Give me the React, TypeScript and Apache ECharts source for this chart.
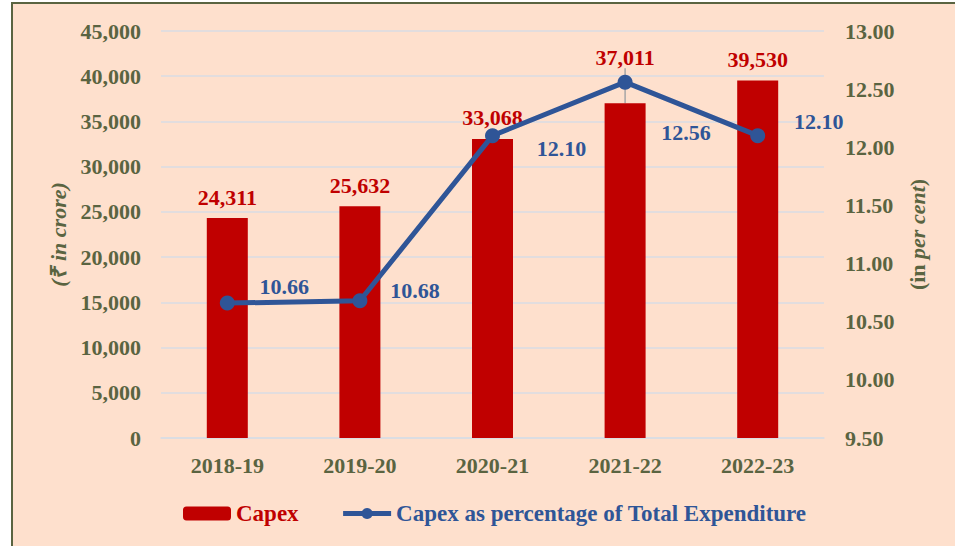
import React, { useEffect, useRef } from "react";
import * as echarts from "echarts";

const categories = ["2018-19", "2019-20", "2020-21", "2021-22", "2022-23"];
const capex = [24311, 25632, 33068, 37011, 39530];
const capexPct = [10.66, 10.68, 12.1, 12.56, 12.1];
const leftAxis = { min: 0, max: 45000, interval: 5000 };
const rightAxis = { min: 9.5, max: 13, interval: 0.5 };
const seriesNames = ["Capex", "Capex as percentage of Total Expenditure"];

// label placement (styling, not data)
const pctLabelOffsets = [
  [57, -17],
  [55, -10],
  [69, 13],
  [61, 50],
  [61, -14],
];
const barLabelShift = [0, 0, 0, -25, 0];

const FONT = "'Liberation Serif', 'Times New Roman', serif";
const OLIVE = "#5A6441";
const RED = "#C00000";
const BLUE = "#2F5597";
const GRID = "#D9DDE3";

export default function App() {
  const ref = useRef<HTMLDivElement>(null);
  useEffect(() => {
    if (!ref.current) return;
    const chart = echarts.init(ref.current, null, { renderer: "svg" });
    chart.setOption({
      animation: false,
      textStyle: { fontFamily: FONT },
      grid: { left: 161, right: 131, top: 31, bottom: 108 },
      legend: {
        left: 178,
        top: 497,
        itemWidth: 48,
        itemHeight: 14,
        itemGap: 42,
        lineStyle: { width: 5 },
        textStyle: { fontFamily: FONT, fontSize: 23, fontWeight: "bold" },
        data: [
          { name: seriesNames[0], textStyle: { color: RED } },
          { name: seriesNames[1], textStyle: { color: BLUE } },
        ],
      },
      xAxis: {
        type: "category",
        data: categories,
        axisTick: { show: false },
        axisLine: { lineStyle: { color: GRID, width: 1.5 } },
        axisLabel: {
          color: OLIVE,
          fontFamily: FONT,
          fontSize: 22,
          fontWeight: "bold",
          margin: 16,
        },
      },
      yAxis: [
        {
          type: "value",
          min: leftAxis.min,
          max: leftAxis.max,
          interval: leftAxis.interval,
          name: "(₹ in crore)",
          nameLocation: "middle",
          nameGap: 90,
          nameTextStyle: {
            color: OLIVE,
            fontFamily: FONT,
            fontSize: 22,
            fontWeight: "bold",
            fontStyle: "italic",
          },
          axisLine: { show: false },
          axisTick: { show: false },
          splitLine: { lineStyle: { color: GRID, width: 1.5 } },
          axisLabel: {
            color: OLIVE,
            fontFamily: FONT,
            fontSize: 22,
            fontWeight: "bold",
            margin: 20,
            formatter: (v: number) => v.toLocaleString("en-US"),
          },
        },
        {
          type: "value",
          min: rightAxis.min,
          max: rightAxis.max,
          interval: rightAxis.interval,
          name: "{n|(in }{i|per cent}{n|)}",
          nameLocation: "middle",
          nameGap: 82,
          nameRotate: 90,
          nameTextStyle: {
            rich: {
              n: {
                color: OLIVE,
                fontFamily: FONT,
                fontSize: 22,
                fontWeight: "bold",
              },
              i: {
                color: OLIVE,
                fontFamily: FONT,
                fontSize: 22,
                fontWeight: "bold",
                fontStyle: "italic",
              },
            },
          },
          axisLine: { show: false },
          axisTick: { show: false },
          splitLine: { show: false },
          axisLabel: {
            color: OLIVE,
            fontFamily: FONT,
            fontSize: 22,
            fontWeight: "bold",
            margin: 21,
            formatter: (v: number) => v.toFixed(2),
          },
        },
      ],
      series: [
        {
          name: seriesNames[0],
          type: "bar",
          yAxisIndex: 0,
          barWidth: 41,
          itemStyle: { color: RED },
          data: capex.map((v, i) => ({
            value: v,
            labelLine: { show: barLabelShift[i] !== 0 },
          })),
          label: {
            show: true,
            position: "top",
            distance: 10,
            color: RED,
            fontFamily: FONT,
            fontSize: 22,
            fontWeight: "bold",
            formatter: (p: any) => Number(p.value).toLocaleString("en-US"),
          },
          labelLayout: (p: any) =>
            barLabelShift[p.dataIndex] ? { dy: barLabelShift[p.dataIndex] } : {},
          labelLine: { show: false, lineStyle: { color: "#A6A6A6", width: 1.5 } },
        },
        {
          name: seriesNames[1],
          type: "line",
          yAxisIndex: 1,
          symbol: "circle",
          symbolSize: 15,
          lineStyle: { color: BLUE, width: 5 },
          itemStyle: { color: BLUE },
          data: capexPct.map((v, i) => ({
            value: v,
            label: { offset: pctLabelOffsets[i] },
          })),
          label: {
            show: true,
            position: "inside",
            color: BLUE,
            fontFamily: FONT,
            fontSize: 22,
            fontWeight: "bold",
            formatter: (p: any) => Number(p.value).toFixed(2),
          },
        },
      ],
    });
    return () => chart.dispose();
  }, []);

  return (
    <div
      style={{
        position: "fixed",
        left: 0,
        top: 0,
        width: 955,
        height: 546,
        overflow: "hidden",
        background: "#ffffff",
      }}
    >
      <div
        style={{
          position: "absolute",
          left: 11,
          top: 2,
          width: 1000,
          height: 600,
          borderLeft: `2px solid ${OLIVE}`,
          borderTop: `2px solid ${OLIVE}`,
          background: "#FEE0CD",
        }}
      />
      <div
        ref={ref}
        style={{ position: "absolute", left: 0, top: 0, width: 955, height: 546 }}
      />
    </div>
  );
}
